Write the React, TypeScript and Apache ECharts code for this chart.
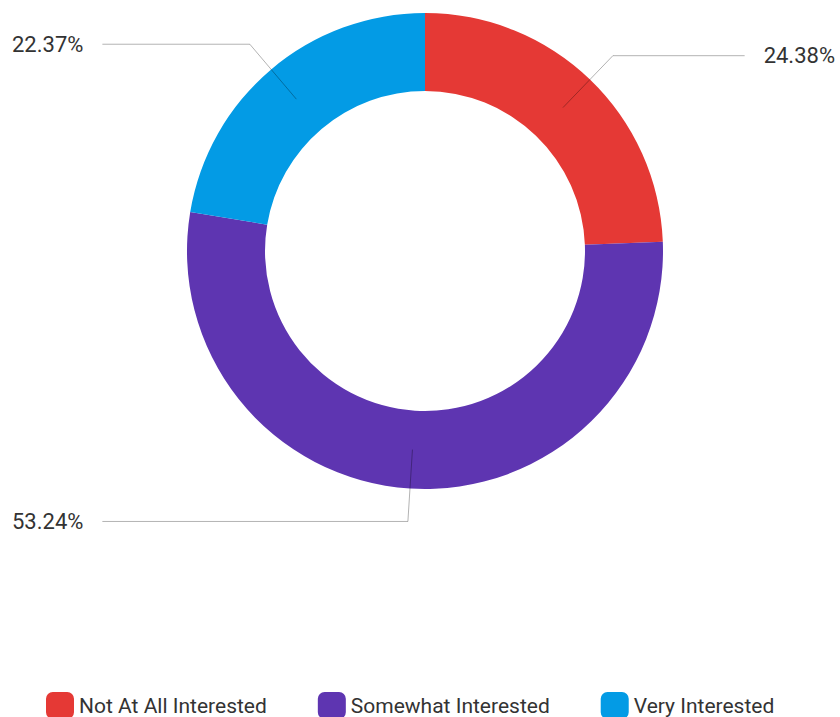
import React, { useEffect, useRef } from "react";
import * as echarts from "echarts";

const categories = ["Not At All Interested", "Somewhat Interested", "Very Interested"];
const values = [24.38, 53.24, 22.37];
const colors = ["#E53935", "#5E35B1", "#039BE5"];

export default function App() {
  const ref = useRef<HTMLDivElement>(null);
  useEffect(() => {
    if (!ref.current) return;
    const chart = echarts.init(ref.current, undefined, { renderer: "svg" });
    const data = categories.map((name, i) => ({ name, value: values[i] }));
    const left = 7;
    chart.setOption({
      animation: false,
      legend: {
        left: 41,
        top: 687,
        itemWidth: 28,
        itemHeight: 27,
        itemGap: 51,
        icon: "roundRect",
        textStyle: { fontFamily: "Roboto", fontSize: 21, color: "#333" },
        data: categories.map((name, i) => ({ name, itemStyle: { color: colors[i] } })),
      },
      series: [
        {
          type: "pie",
          left,
          right: 0,
          center: [425 - left, 251],
          radius: [160, 238],
          startAngle: 90,
          clockwise: true,
          silent: true,
          label: { show: false },
          labelLine: { show: false },
          data: data.map((d, i) => ({ ...d, itemStyle: { color: colors[i] } })),
        },
        {
          type: "pie",
          z: 5,
          left,
          right: 0,
          center: [425 - left, 251],
          radius: [0, 199],
          startAngle: 90,
          clockwise: true,
          silent: true,
          itemStyle: { color: "rgba(0,0,0,0)" },
          label: {
            show: true,
            position: "outside",
            alignTo: "edge",
            edgeDistance: 5,
            distanceToLabelLine: 19,
            formatter: (p: any) => p.value.toFixed(2) + "%",
            fontFamily: "Roboto",
            fontSize: 22,
            color: "#333",
          },
          labelLine: {
            show: true,
            length: 72,
            length2: 20,
            lineStyle: { color: "rgba(0,0,0,0.3)", width: 1 },
          },
          data,
        },
      ],
    });
    return () => chart.dispose();
  }, []);
  return (
    <div
      ref={ref}
      style={{ position: "fixed", left: 0, top: 0, width: 840, height: 717, background: "#fff" }}
    />
  );
}
